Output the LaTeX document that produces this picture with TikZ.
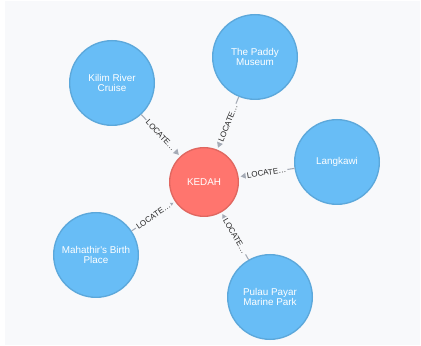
\documentclass[tikz,border=0pt]{standalone}
\usepackage{fontspec}
\setmainfont{Liberation Sans}
\usetikzlibrary{arrows.meta}

\begin{document}
\begin{tikzpicture}[x=0.75pt, y=0.75pt]
    \definecolor{bgColour}{HTML}{F8F9FB}
    \definecolor{placeFill}{HTML}{68BDF6}
    \definecolor{placeBorder}{HTML}{5CA8DB}
    \definecolor{stateFill}{HTML}{FF756E}
    \definecolor{stateBorder}{HTML}{E06760}
    \definecolor{relColour}{HTML}{A5ABB6}

    \tikzset{
        place/.style={circle, fill=placeFill, draw=placeBorder, line width=1pt,
            minimum size=63.5pt, inner sep=0pt, align=center, text=white,
            font=\fontsize{7.4pt}{8pt}\selectfont},
        state/.style={circle, fill=stateFill, draw=stateBorder, line width=1pt,
            minimum size=51.5pt, inner sep=0pt, text=white,
            font=\fontsize{7.4pt}{8pt}\selectfont},
        rel/.style={draw=relColour, line width=0.8pt, shorten >=1.5pt,
            -{Triangle[width=5pt,length=4.5pt]}},
        rellabel/.style={midway, sloped, fill=bgColour, inner sep=1pt,
            text=black!85, font=\fontsize{6pt}{7pt}\selectfont}
    }

    % Canvas
    \useasboundingbox (0,0) rectangle (421,346);
    \fill[bgColour] (5,1) rectangle (420,345);

    % Centre node
    \node[state] (kedah) at (204,164) {KEDAH};

    % Places
    \node[place] (kilim) at (112,263) {Kilim River\\Cruise};
    \node[place] (paddy) at (255,289) {The Paddy\\Museum};
    \node[place] (langkawi) at (337,184) {Langkawi};
    \node[place] (mahathir) at (96,91) {Mahathir\textquotesingle s Birth\\Place};
    \node[place] (pulau) at (270,49) {Pulau Payar\\Marine Park};

    % Relationships
    \foreach \src in {kilim,paddy,langkawi,mahathir,pulau}
        \draw[rel] (\src) -- (kedah) node[rellabel] {LOCATE…};

\end{tikzpicture}
\end{document}
